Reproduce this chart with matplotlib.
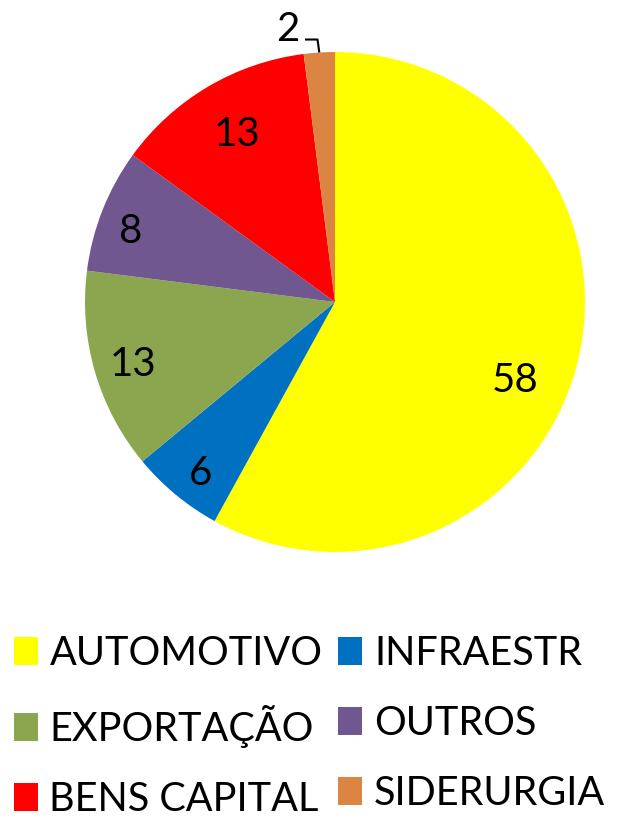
import matplotlib
matplotlib.use("Agg")
import matplotlib.pyplot as plt
import numpy as np
from matplotlib.patches import Patch

LABELS = ["AUTOMOTIVO", "INFRAESTR", "EXPORTAÇÃO", "OUTROS", "BENS CAPITAL", "SIDERURGIA"]
VALUES = [58, 6, 13, 8, 13, 2]
COLORS = ["#FFFF00", "#0070C0", "#8BA64E", "#70578F", "#FF0000", "#DC8543"]

# label placement inside slices (radius fraction, angle shift in degrees)
LABEL_R = [0.78, 0.86, 0.84, 0.87, 0.79, None]
LABEL_SHIFT = [-8, 1, 0, 1.5, -1, 0]

plt.rcParams["font.family"] = ["Lato", "DejaVu Sans"]

fig = plt.figure(figsize=(6.27, 8.23), dpi=100)
ax = fig.add_axes([0.1356, 0.3293, 0.7974, 0.6075])

wedges, _ = ax.pie(
    VALUES,
    colors=COLORS,
    startangle=90,
    counterclock=False,
    radius=1.0,
    wedgeprops={"linewidth": 0},
)
ax.set_xlim(-1, 1)
ax.set_ylim(-1, 1)
ax.set_aspect("equal")
ax.axis("off")

for w, v, r, sh in zip(wedges, VALUES, LABEL_R, LABEL_SHIFT):
    mid = np.deg2rad((w.theta1 + w.theta2) / 2 + sh)
    if r is None:
        # small slice: label outside with a short leader line
        tx, ty = -0.19, 1.09
        ax.text(tx, ty, str(v), ha="center", va="center", fontsize=29)
        ex, ey = np.cos(mid), np.sin(mid)
        ax.plot([tx + 0.07, tx + 0.12, ex], [ty - 0.04, ty - 0.04, ey],
                color="black", lw=1.5, clip_on=False, solid_capstyle="butt")
    else:
        ax.text(r * np.cos(mid), r * np.sin(mid) - 0.015, str(v),
                ha="center", va="center", fontsize=29)

order = [0, 2, 4, 1, 3, 5]
handles = [Patch(facecolor=COLORS[i], edgecolor="none") for i in order]
fig.legend(
    handles, [LABELS[i] for i in order],
    ncol=2, loc="upper left", bbox_to_anchor=(0.022, 0.229),
    frameon=False, fontsize=28.5, handlelength=0.6, handleheight=0.7,
    handletextpad=0.3, columnspacing=0.4, labelspacing=0.84,
    borderaxespad=0, borderpad=0,
)

fig.savefig("out.png", dpi=100)
